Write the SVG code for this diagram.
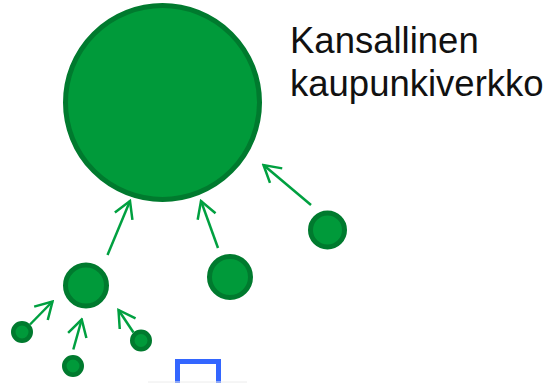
<svg xmlns="http://www.w3.org/2000/svg" width="556" height="383" viewBox="0 0 556 383">
<style>
.n{fill:#009a3a;stroke:#007a2e}
.big{stroke-width:5}
.med{stroke-width:5}
.sm{stroke-width:4.5}
.c line{stroke:#00a040;stroke-width:2.5;fill:none;marker-end:url(#ah)}
.t{font-family:"Liberation Sans",Arial,sans-serif;font-size:36.5px;fill:#111}
</style>
<defs>
<marker id="ah" markerUnits="userSpaceOnUse" viewBox="-20 -12 22 24" refX="0" refY="0" markerWidth="22" markerHeight="24" orient="auto">
<path d="M-16.5,-9.5 L0,0 L-16.5,9.5" fill="none" stroke="#00a040" stroke-width="2.5"/>
</marker>
</defs>
<rect width="556" height="383" fill="#fff"/>
<g id="nodeBig"><circle class="n big" cx="162.5" cy="102.5" r="97"/></g>
<g id="label"><text class="t" x="290" y="53">Kansallinen</text><text class="t" x="290" y="96">kaupunkiverkko</text></g>
<g id="nodeA"><circle class="n med" cx="86" cy="285.5" r="20.5"/></g>
<g id="nodeB"><circle class="n med" cx="230" cy="277" r="20.5"/></g>
<g id="nodeC"><circle class="n med" cx="327.5" cy="230" r="17"/></g>
<g id="nodeD"><circle class="n sm" cx="22" cy="332" r="8.75"/></g>
<g id="nodeE"><circle class="n sm" cx="73" cy="366" r="8.75"/></g>
<g id="nodeF"><circle class="n sm" cx="141" cy="340.5" r="8.75"/></g>
<g id="other"><rect x="177.5" y="361.5" width="41" height="30" fill="none" stroke="#3366ff" stroke-width="5"/><line x1="148" y1="382" x2="247" y2="382" stroke="#ececec" stroke-width="1"/></g>
<g id="connectors" class="c">
<line x1="107.5" y1="255" x2="130" y2="201"/>
<line x1="218" y1="248" x2="201" y2="201"/>
<line x1="311" y1="205" x2="263.5" y2="165"/>
<line x1="30" y1="324.5" x2="52.5" y2="301.5"/>
<line x1="73.3" y1="349.5" x2="81.7" y2="319.5"/>
<line x1="133.5" y1="332.5" x2="118.5" y2="310"/>
</g>
</svg>
